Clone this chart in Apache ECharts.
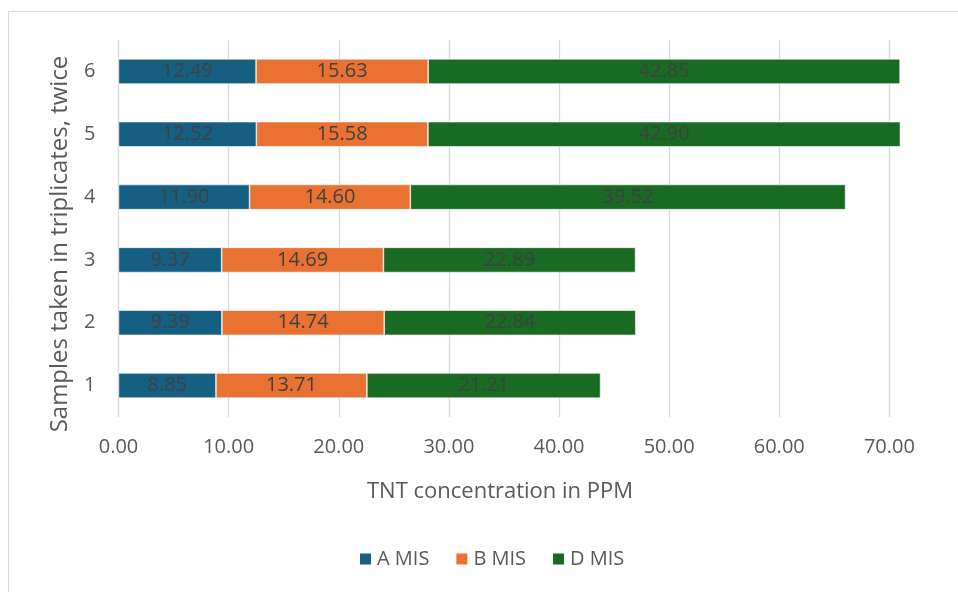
<!DOCTYPE html>
<html>
<head>
<meta charset="utf-8">
<script src="https://cdn.jsdelivr.net/npm/echarts@6/dist/echarts.min.js"></script>
<style>
  html, body { margin: 0; padding: 0; background: #ffffff; }
  #chart { width: 958px; height: 592px; }
</style>
</head>
<body>
<div id="chart"></div>
<script>
// Sample numbers (category axis, bottom to top)
const categories = ['1', '2', '3', '4', '5', '6'];

// TNT concentration (PPM) per method
const seriesNames = ['A MIS', 'B MIS', 'D MIS'];
const aMis = [8.85, 9.39, 9.37, 11.90, 12.52, 12.49];
const bMis = [13.71, 14.74, 14.69, 14.60, 15.58, 15.63];
const dMis = [21.21, 22.84, 22.89, 39.52, 42.90, 42.85];

// Value axis ticks
const xMin = 0;
const xMax = 80;
const xStep = 10;

const FONT = "'Open Sans', 'Liberation Sans', sans-serif";
const colors = ['#156082', '#E97132', '#196B24'];

const chart = echarts.init(document.getElementById('chart'), null, { renderer: 'canvas' });

function barSeries(name, data, color) {
  return {
    name: name,
    type: 'bar',
    stack: 'total',
    data: data,
    barWidth: '40%',
    itemStyle: { color: color, borderColor: '#ffffff', borderWidth: 0.6 },
    label: {
      show: true,
      position: 'inside',
      color: '#404040',
      fontFamily: FONT,
      fontSize: 20,
      formatter: p => Number(p.value).toFixed(2)
    },
    emphasis: { disabled: true }
  };
}

chart.setOption({
  animation: false,
  backgroundColor: '#ffffff',
  textStyle: { fontFamily: FONT },
  // the plot runs past the right edge of the canvas (80 lies off-screen)
  grid: { left: 118.5, top: 40, width: 881, height: 377, containLabel: false, outerBoundsMode: 'none' },
  xAxis: {
    type: 'value',
    min: xMin,
    max: xMax,
    interval: xStep,
    axisLine: { show: false },
    axisTick: { show: false },
    splitLine: { show: true, lineStyle: { color: '#d9d9d9', width: 1.3 } },
    axisLabel: {
      color: '#595959',
      fontFamily: FONT,
      fontSize: 20,
      margin: 20,
      formatter: v => v.toFixed(2)
    }
  },
  yAxis: {
    type: 'category',
    data: categories,
    axisLine: { show: false },
    axisTick: { show: false },
    splitLine: { show: false },
    axisLabel: { color: '#595959', fontFamily: FONT, fontSize: 20, margin: 23 }
  },
  legend: {
    data: seriesNames,
    left: 358,
    top: 549,
    padding: 0,
    icon: 'rect',
    itemWidth: 13,
    itemHeight: 13,
    itemGap: 25,
    textStyle: { color: '#595959', fontFamily: FONT, fontSize: 20 }
  },
  graphic: [
    {
      type: 'rect',
      silent: true,
      shape: { x: 8.5, y: 11.5, width: 1100, height: 700 },
      style: { fill: null, stroke: '#d9d9d9', lineWidth: 1 }
    },
    {
      type: 'text',
      silent: true,
      x: 500,
      y: 492,
      style: {
        text: 'TNT concentration in PPM',
        fill: '#595959',
        font: '22px ' + FONT,
        textAlign: 'center',
        textVerticalAlign: 'middle'
      }
    },
    {
      type: 'text',
      silent: true,
      x: 60,
      y: 244,
      rotation: Math.PI / 2,
      style: {
        text: 'Samples taken in triplicates, twice',
        fill: '#595959',
        font: '24px ' + FONT,
        textAlign: 'center',
        textVerticalAlign: 'middle'
      }
    }
  ],
  series: [
    barSeries(seriesNames[0], aMis, colors[0]),
    barSeries(seriesNames[1], bMis, colors[1]),
    barSeries(seriesNames[2], dMis, colors[2])
  ]
});
</script>
</body>
</html>
